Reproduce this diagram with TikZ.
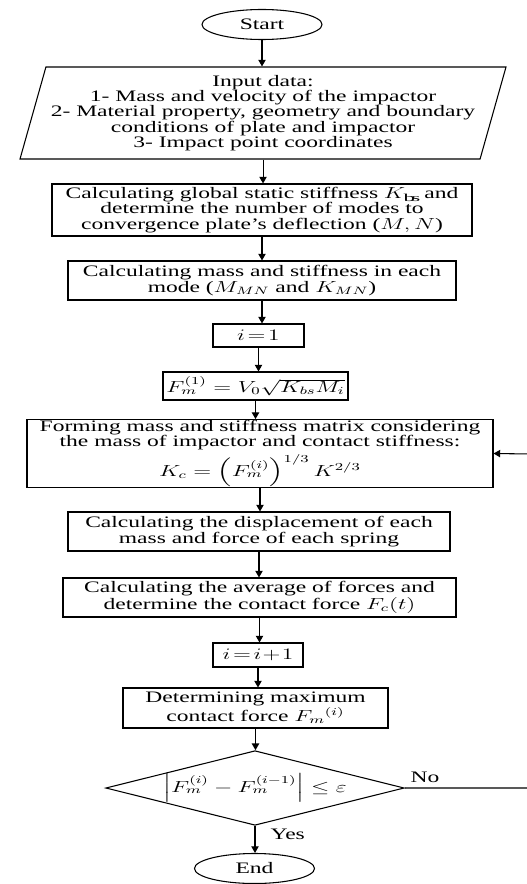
\documentclass[tikz,border=0pt]{standalone}
\usepackage{amsmath}
\usepackage{fontspec}
\setmainfont{Liberation Serif}[FakeStretch=1.47]
\usetikzlibrary{shapes.geometric,arrows.meta}
\newcommand{\wm}[1]{\scalebox{1.47}[1]{$#1$}}

\begin{document}
\begin{tikzpicture}[x=0.75pt, y=-0.75pt,
    font=\fontsize{12}{11.4}\selectfont,
    box/.style={draw, rectangle, line width=0.8pt, align=center, inner sep=1pt},
    term/.style={draw, ellipse, line width=0.8pt, inner sep=0pt, minimum width=90pt, minimum height=22.5pt},
    arr/.style={-{Triangle[length=5pt,width=5.5pt]}, line width=0.8pt}]
    \useasboundingbox (0,0) rectangle (526,884);
    \node[term] (start) at (262,24.5) {Start};
    \node[draw, trapezium, trapezium left angle=71, trapezium right angle=109, trapezium stretches body, line width=0.8pt, align=center, minimum width=364.5pt, minimum height=69pt, inner sep=0pt] (input) at (263,113) {Input data:\\ 1- Mass and velocity of the impactor\\ 2- Material property, geometry and boundary\\ conditions of plate and impactor\\ 3- Impact point coordinates};
    \node[box, minimum width=315pt, minimum height=39pt] (stiff) at (262,210) {Calculating global static stiffness \wm{K_{\mathrm{bs}}} and\\ determine the number of modes to\\ convergence plate’s deflection (\wm{M,N})};
    \node[box, minimum width=291pt, minimum height=29.25pt] (modes) at (262,280.5) {Calculating mass and stiffness in each\\ mode (\wm{M_{MN}} and \wm{K_{MN}})};
    \node[box, minimum width=68.25pt, minimum height=17.25pt] (init) at (258.5,335.5) {\wm{i\!=\!1}};
    \node[box, minimum width=138.75pt, minimum height=21pt] (fone) at (255.5,386) {\wm{F_m^{(1)}=V_0\sqrt{K_{bs}M_i}}};
    \node[box, minimum width=349.5pt, minimum height=48.75pt, inner sep=0.5pt] (form) at (260,453.5) {Forming mass and stiffness matrix considering\\ the mass of impactor and contact stiffness:\\[2pt] \wm{K_c=\left(F_m^{(i)}\right)^{1/3}K^{2/3}}};
    \node[box, minimum width=286.5pt, minimum height=29.25pt] (disp) at (259,531.5) {Calculating the displacement of each\\ mass and force of each spring};
    \node[box, minimum width=294.75pt, minimum height=29.25pt] (avg) at (259.5,597.5) {Calculating the average of forces and\\ determine the contact force \wm{F_c(t)}};
    \node[box, minimum width=67.5pt, minimum height=18pt] (incr) at (258,655) {\wm{i\!=\!i\!+\!1}};
    \node[box, minimum width=198.75pt, minimum height=30pt] (fmax) at (255.5,708) {Determining maximum\\ contact force \wm{F_m{}^{(i)}}};
    \node[draw, diamond, line width=0.8pt, aspect=4, minimum width=214.5pt, minimum height=52.5pt, inner sep=0pt] (check) at (255,788) {\wm{\left|F_m^{(i)}-F_m^{(i-1)}\right|\le\varepsilon}};
    \node[term] (end) at (254.5,868.5) {End};
    \coordinate (back) at (531,454);

    \draw[arr] (start.south) -- (start.south |- input.north);
    \draw[arr] (input.south) -- (input.south |- stiff.north);
    \draw[arr] (stiff.south) -- (stiff.south |- modes.north);
    \draw[arr] (modes.south) -- (modes.south |- init.north);
    \draw[arr] (init.south) -- (init.south |- fone.north);
    \draw[arr] (fone.south) -- (fone.south |- form.north);
    \draw[arr] (form.south) -- (form.south |- disp.north);
    \draw[arr] (disp.south) -- (disp.south |- avg.north);
    \draw[arr] (avg.south) -- (avg.south |- incr.north);
    \draw[arr] (incr.south) -- (incr.south |- fmax.north);
    \draw[arr] (fmax.south) -- (fmax.south |- check.north);
    \draw[arr] (check.south) -- node[right, pos=0.3, xshift=8pt] {Yes} (check.south |- end.north);
    \draw[arr] (check.east) -- node[above, pos=0.16] {No} (check.east -| back) -- (back) -- (form.east);
\end{tikzpicture}
\end{document}
